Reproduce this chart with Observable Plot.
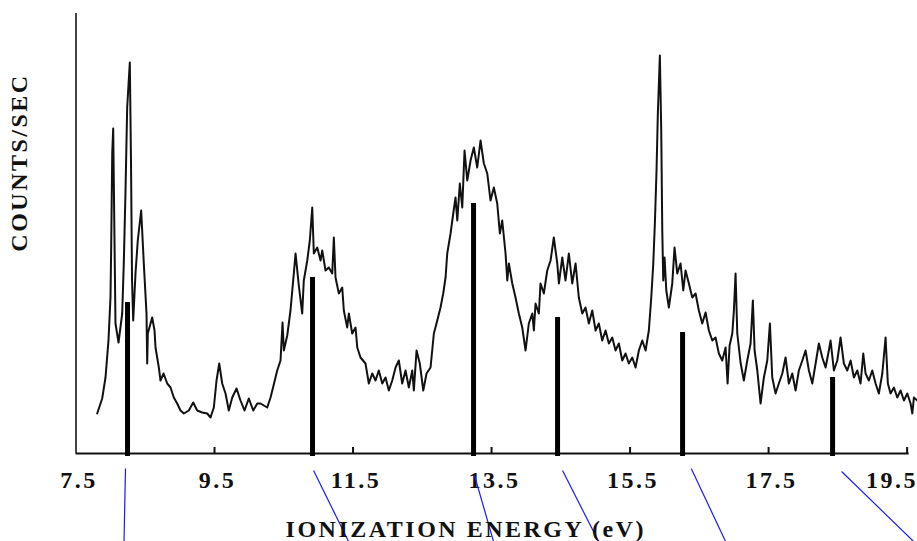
<!DOCTYPE html>
<html><head><meta charset="utf-8">
<script src="https://cdn.jsdelivr.net/npm/d3@7"></script>
<script src="https://cdn.jsdelivr.net/npm/@observablehq/plot@0.6"></script>
<style>
html,body{margin:0;padding:0;background:#fff;}
#chart svg text{letter-spacing:2.5px;}
</style></head><body><div id="chart"></div>
<script>
// Photoelectron spectrum (energy in eV, counts in arbitrary units)
const energy = [7.806,7.878,7.926,7.969,7.998,8.008,8.023,8.037,8.070,8.114,8.167,8.190,8.215,8.239,8.277,8.294,8.309,8.326,8.359,8.392,8.441,8.479,8.518,8.528,8.537,8.600,8.634,8.648,8.696,8.720,8.764,8.817,8.865,8.912,8.961,9.009,9.057,9.129,9.192,9.250,9.322,9.395,9.442,9.490,9.529,9.568,9.611,9.659,9.706,9.756,9.818,9.875,9.933,9.995,10.059,10.117,
10.164,10.261,10.309,10.356,10.405,10.453,10.482,10.501,10.550,10.597,10.645,10.670,10.717,10.766,10.789,10.839,10.876,10.911,10.934,10.983,11.031,11.055,11.103,11.150,11.200,11.223,11.247,11.295,11.344,11.367,11.416,11.439,11.488,11.536,11.561,11.608,11.680,11.728,11.777,11.825,11.872,11.922,11.969,12.017,12.066,12.114,12.161,12.210,12.258,12.306,12.355,12.378,12.417,12.464,12.514,12.561,12.619,12.667,12.716,12.763,12.802,12.836,12.860,12.908,12.947,12.980,13.005,13.042,13.077,13.110,13.149,13.197,13.244,13.293,13.341,13.389,13.438,13.485,13.533,13.582,13.620,13.654,13.702,13.727,13.750,13.799,13.846,13.894,13.943,13.991,14.038,14.088,14.111,14.135,14.183,14.207,14.255,14.304,14.352,14.399,14.449,14.472,14.521,14.568,14.616,14.665,14.713,14.760,14.810,14.857,14.905,14.954,15.002,15.049,15.098,15.146,15.194,15.243,15.290,15.338,15.387,15.435,15.482,15.532,15.579,15.627,15.676,15.724,15.771,15.806,15.835,15.858,15.882,15.901,15.930,15.950,15.965,15.979,15.998,16.023,16.060,16.109,16.142,16.181,16.229,16.268,16.301,16.349,16.398,16.446,16.493,16.542,16.590,16.638,16.687,16.734,16.782,16.831,16.879,16.908,16.937,16.976,16.999,17.023,17.048,17.095,17.143,17.192,17.240,17.273,17.298,17.337,17.384,17.432,17.481,17.519,17.553,17.601,17.648,17.698,17.745,17.793,17.842,17.890,17.937,17.987,18.034,18.082,18.131,18.179,18.226,18.275,18.323,18.370,18.395,18.443,18.492,18.539,18.587,18.636,18.684,18.732,18.781,18.828,18.867,18.900,18.948,18.997,19.045,19.092,19.142,19.189,19.222,19.261,19.309,19.358,19.406,19.454,19.503,19.550,19.575,19.598,19.647];
const counts = [40,55,76,113,156,206,300,325,130,111,140,190,263,346,391,293,173,133,180,213,243,190,140,90,120,136,123,106,86,73,80,70,66,56,50,43,40,43,51,43,41,40,36,46,73,90,70,60,43,56,65,53,43,55,43,50,
50,46,56,69,83,93,131,103,118,143,180,200,168,140,173,193,213,246,200,206,193,203,183,186,180,216,176,160,166,143,126,140,120,126,106,96,90,70,80,73,83,70,76,63,73,86,93,70,83,66,83,63,103,90,63,80,86,120,133,146,160,176,200,220,240,256,233,270,246,303,273,293,306,286,313,290,280,253,266,250,220,233,200,173,190,170,156,140,126,103,130,140,123,150,140,170,160,183,193,216,190,170,196,173,200,170,190,156,140,146,130,143,123,130,113,123,110,116,103,110,93,100,90,96,86,103,113,103,123,156,190,230,283,340,398,323,223,173,196,163,146,170,206,180,190,163,183,170,156,160,143,130,141,123,113,116,100,93,106,70,108,120,143,180,120,91,73,93,110,153,103,83,50,76,93,130,76,60,70,80,96,70,80,63,83,93,103,83,70,90,110,96,86,103,113,83,93,116,90,83,93,76,83,70,100,80,73,83,70,60,80,116,70,60,66,56,63,53,60,50,40,56,53];

// Assigned ionization bands (stick spectrum)
const bandEnergy = [8.244, 10.915, 13.240, 14.453, 16.258, 18.424];
const bandHeight = [151, 176, 250, 136, 121, 76];

// Correlation lines below the axis
const corrStartEnergy = [8.215, 10.930, 13.254, 14.525, 16.383, 18.554];
const corrEndEnergy   = [8.193, 11.435, 13.529, 15.045, 16.879, 19.594];
const corrStartLevel  = [-15, -17, -22, -17, -15, -18];
const corrEndLevel    = [-88, -88, -88, -88, -88, -88];

const tickValues = [7.5, 9.5, 11.5, 13.5, 15.5, 17.5, 19.5];
const xTitle = "IONIZATION ENERGY (eV)";
const yTitle = "COUNTS/SEC";

const spectrum = energy.map((e, i) => ({e, c: counts[i]}));
const bands = bandEnergy.map((e, i) => ({e, h: bandHeight[i]}));
const corr = corrStartEnergy.map((e, i) => ({x1: e, y1: corrStartLevel[i], x2: corrEndEnergy[i], y2: corrEndLevel[i]}));

const chart = Plot.plot({
  width: 917, height: 541,
  marginLeft: 75.5, marginRight: 0, marginTop: 13, marginBottom: 88,
  style: {fontFamily: "'Liberation Serif', 'DejaVu Serif', serif", fontSize: "24px", fontWeight: "bold", background: "#fff", color: "#111", overflow: "visible"},
  x: {domain: [7.5, 19.65]},
  y: {domain: [0, 440], axis: null},
  marks: [
    Plot.ruleX([7.5], {y1: 0, y2: 440, stroke: "#444", strokeWidth: 2}),
    Plot.ruleY([0], {x1: 7.5, x2: 19.53, stroke: "#111", strokeWidth: 2}),
    Plot.ruleX(tickValues.slice(1), {y1: 0, y2: 6, stroke: "#111", strokeWidth: 2}),
    Plot.axisX({ticks: tickValues.slice(0, 6), tickFormat: d => d.toFixed(1), tickSize: 0, tickPadding: 17, label: null, dx: 3}),
    Plot.axisX({ticks: tickValues.slice(6), tickFormat: d => d.toFixed(1), tickSize: 0, tickPadding: 17, label: null, dx: -15}),
    Plot.ruleX(bands, {x: "e", y1: -3, y2: "h", stroke: "#000", strokeWidth: 5}),
    Plot.line(spectrum, {x: "e", y: "c", stroke: "#111", strokeWidth: 2}),
    Plot.link(corr, {x1: "x1", y1: "y1", x2: "x2", y2: "y2", stroke: "#1a1aff", strokeWidth: 1.2}),
    Plot.text([yTitle], {frameAnchor: "left", textAnchor: "middle", lineAnchor: "middle", dx: -56.5, dy: -71, rotate: -90}),
    Plot.text([xTitle], {frameAnchor: "bottom", textAnchor: "middle", lineAnchor: "middle", dx: -31, dy: 76})
  ]
});
document.getElementById("chart").append(chart);
</script>
</body></html>
